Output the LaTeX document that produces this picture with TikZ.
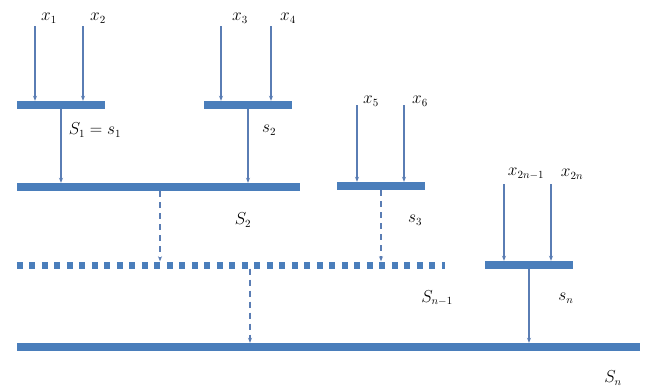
\documentclass[tikz,border=0pt]{standalone}
\usetikzlibrary{arrows.meta}
\definecolor{barblue}{HTML}{4A7EBB}
\definecolor{lineblue}{HTML}{5A7DB4}
\begin{document}
\begin{tikzpicture}[x=1pt,y=-1pt,font=\fontsize{16}{19}\selectfont,
  bar/.style={fill=barblue,draw=none,inner sep=0pt,minimum height=8pt},
  ghostbar/.style={draw=none,inner sep=0pt,minimum height=7pt},
  dotbar/.style={draw=barblue,line width=7pt,dash pattern=on 6pt off 6.5pt},
  arr/.style={draw=lineblue,line width=1.3pt,-{Stealth[length=5pt,width=4pt]}},
  darr/.style={arr,dash pattern=on 6pt off 5pt}]
\useasboundingbox (0,0) rectangle (653,388);
% level one
\node[bar,minimum width=88pt] (b1) at (61,105) {};
\node[bar,minimum width=88pt] (b2) at (248,105) {};
\node[bar,minimum width=283pt] (b3) at (158.5,187) {};
\node[bar,minimum width=88pt] (b4) at (381,186) {};
\node[ghostbar,minimum width=428pt] (b5) at (231,265) {};
\draw[dotbar] (b5.west) -- (b5.east);
\node[bar,minimum width=88pt] (b6) at (529,265) {};
\node[bar,minimum width=623pt] (b7) at (328.5,347) {};
% inputs
\node (lx1) at (49,18) {$x_1$};
\node (lx2) at (98,18) {$x_2$};
\node (lx3) at (240,18) {$x_3$};
\node (lx4) at (288,18) {$x_4$};
\node (lx5) at (371,101) {$x_5$};
\node (lx6) at (420,101) {$x_6$};
\node (lx7) at (526,174) {$x_{2n-1}$};
\node (lx8) at (572,174) {$x_{2n}$};
\coordinate (i1) at (35,26);
\coordinate (i2) at (83,26);
\coordinate (i3) at (221,26);
\coordinate (i4) at (271,26);
\coordinate (i5) at (357,105);
\coordinate (i6) at (404,105);
\coordinate (i7) at (504,184);
\coordinate (i8) at (551,184);
\foreach \i/\b in {1/b1,2/b1,3/b2,4/b2,5/b4,6/b4,7/b6,8/b6}
  \draw[arr] (i\i) -- (i\i |- \b.north);
% sums
\draw[arr] (b1.south) -- (b1.south |- b3.north);
\draw[arr] (b2.south) -- (b2.south |- b3.north);
\draw[darr] ([xshift=1.5pt]b3.south) -- ([xshift=1.5pt]b3.south |- b5.north);
\draw[darr] (b4.south) -- (b4.south |- b5.north);
\draw[darr] ([xshift=19pt]b5.south) -- ([xshift=19pt]b5.south |- b7.north);
\draw[arr] (b6.south) -- (b6.south |- b7.north);
% labels
\node (l1) at (95,130) {$S_1=s_1$};
\node (l2) at (269,130) {$s_2$};
\node (l3) at (243,220) {$S_2$};
\node (l4) at (415,220) {$s_3$};
\node (l5) at (437,298) {$S_{n-1}$};
\node (l6) at (566,298) {$s_n$};
\node (l7) at (613,378) {$S_n$};
\end{tikzpicture}
\end{document}
